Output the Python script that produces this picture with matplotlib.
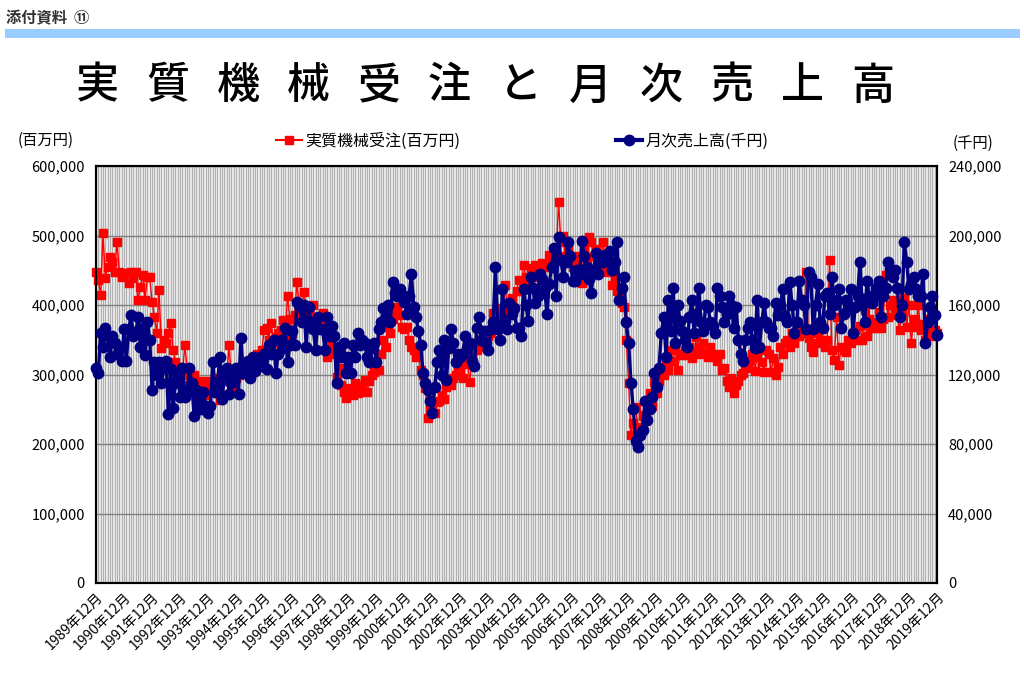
import matplotlib
matplotlib.use('Agg')
import matplotlib.pyplot as plt
from matplotlib.patches import Rectangle
from matplotlib.lines import Line2D
from matplotlib.ticker import FuncFormatter, MultipleLocator

plt.rcParams['font.family'] = ['Noto Sans CJK JP', 'DejaVu Sans']

# Data (monthly, 1989-12 .. 2019-12)

# 実質機械受注, thousand x 百万円
orders = [
    448,                                                          # 1989-12
    436, 414, 503, 439, 455, 469, 462, 448, 491, 447, 440, 446,   # 1990
    446, 432, 447, 439, 448, 407, 426, 443, 407, 440, 440, 405,   # 1991
    383, 360, 421, 338, 350, 345, 360, 374, 335, 318, 311, 306,   # 1992
    300, 342, 310, 285, 295, 300, 280, 275, 290, 282, 270, 290,   # 1993
    285, 280, 295, 275, 263, 270, 290, 300, 342, 290, 280, 295,   # 1994
    300, 310, 305, 315, 320, 310, 325, 315, 330, 320, 335, 364,   # 1995
    367, 350, 374, 345, 354, 360, 364, 378, 355, 413, 380, 360,   # 1996
    385, 433, 400, 390, 419, 395, 385, 380, 400, 370, 365, 380,   # 1997
    389, 370, 325, 350, 340, 330, 296, 310, 285, 275, 266, 280,   # 1998
    278, 270, 288, 273, 285, 280, 292, 275, 290, 300, 304, 306,   # 1999
    306, 330, 350, 340, 368, 360, 380, 390, 397, 385, 368, 365,   # 2000
    368, 350, 340, 335, 325, 330, 306, 300, 280, 237, 250, 255,   # 2001
    245, 260, 262, 270, 265, 282, 290, 285, 295, 300, 310, 305,   # 2002
    295, 315, 320, 289, 325, 340, 335, 350, 345, 360, 340, 355,   # 2003
    360, 388, 370, 380, 395, 385, 429, 400, 390, 410, 395, 420,   # 2004
    436, 420, 458, 440, 430, 453, 445, 458, 440, 450, 460, 455,   # 2005
    455, 472, 460, 480, 470, 548, 490, 500, 470, 480, 465, 455,   # 2006
    470, 460, 450, 432, 480, 465, 498, 490, 470, 480, 465, 455,   # 2007
    491, 470, 447, 460, 429, 440, 420, 410, 403, 397, 350, 288,   # 2008
    213, 230, 253, 225, 213, 240, 242, 260, 273, 255, 289, 273,   # 2009
    290, 306, 300, 320, 306, 335, 320, 340, 306, 330, 328, 335,   # 2010
    328, 340, 324, 330, 354, 340, 330, 345, 331, 325, 340, 330,   # 2011
    325, 320, 330, 306, 310, 290, 282, 295, 273, 285, 290, 300,   # 2012
    302, 315, 310, 321, 330, 305, 325, 340, 318, 304, 335, 330,   # 2013
    304, 324, 299, 311, 340, 330, 345, 350, 340, 360, 345, 355,   # 2014
    355, 368, 360, 447, 352, 340, 332, 345, 360, 350, 345, 340,   # 2015
    350, 465, 335, 321, 383, 314, 340, 335, 332, 350, 345, 360,   # 2016
    364, 350, 370, 350, 393, 355, 380, 367, 375, 367, 390, 367,   # 2017
    380, 443, 383, 400, 407, 396, 385, 364, 390, 410, 368, 400,   # 2018
    345, 380, 368, 400, 364, 372, 350, 364, 380, 355, 364, 360,   # 2019
]

# 月次売上高, thousand x 千円
sales = [
    124,                                                          # 1989-12
    121, 144, 136, 147, 142, 130, 142, 138, 132, 136, 128, 146,   # 1990
    128, 146, 154, 142, 144, 153, 136, 147, 131, 150, 140, 111,   # 1991
    127, 120, 127, 115, 124, 128, 97, 123, 101, 115, 120, 107,    # 1992
    124, 107, 110, 124, 115, 96, 111, 105, 100, 110, 102, 98,     # 1993
    102, 127, 110, 115, 130, 106, 120, 124, 109, 115, 120, 124,   # 1994
    109, 141, 121, 125, 128, 118, 130, 122, 128, 130, 125, 132,   # 1995
    123, 137, 132, 140, 121, 132, 140, 135, 147, 127, 137, 145,   # 1996
    137, 162, 160, 150, 160, 136, 159, 150, 146, 134, 153, 146,   # 1997
    146, 134, 153, 142, 148, 142, 115, 136, 130, 138, 121, 130,   # 1998
    121, 137, 130, 144, 137, 140, 138, 130, 127, 135, 138, 127,   # 1999
    146, 150, 158, 151, 160, 150, 173, 167, 165, 169, 166, 162,   # 2000
    155, 165, 178, 159, 153, 145, 137, 121, 115, 111, 105, 98,    # 2001
    113, 127, 134, 120, 140, 117, 135, 146, 138, 127, 132, 130,   # 2002
    132, 142, 135, 138, 128, 125, 147, 153, 140, 145, 138, 134,   # 2003
    146, 150, 182, 146, 140, 169, 151, 146, 161, 155, 158, 147,   # 2004
    147, 142, 169, 160, 151, 176, 170, 161, 165, 178, 175, 170,   # 2005
    155, 172, 182, 193, 165, 199, 186, 176, 185, 196, 188, 174,   # 2006
    174, 180, 178, 197, 188, 182, 175, 167, 180, 190, 178, 185,   # 2007
    185, 189, 186, 191, 180, 185, 196, 163, 170, 176, 150, 138,   # 2008
    115, 100, 82, 78, 85, 88, 105, 94, 100, 107, 121, 113,        # 2009
    124, 144, 153, 130, 163, 145, 170, 138, 160, 151, 145, 140,   # 2010
    136, 153, 163, 144, 155, 170, 150, 145, 160, 159, 150, 148,   # 2011
    144, 170, 165, 159, 150, 155, 165, 160, 147, 159, 140, 132,   # 2012
    128, 140, 147, 150, 140, 135, 163, 136, 150, 161, 150, 147,   # 2013
    147, 142, 161, 154, 160, 169, 153, 150, 173, 160, 144, 150,   # 2014
    174, 163, 160, 146, 179, 176, 146, 160, 172, 150, 147, 165,   # 2015
    167, 155, 176, 160, 163, 169, 147, 155, 163, 158, 169, 144,   # 2016
    159, 165, 185, 160, 150, 174, 165, 161, 165, 170, 174, 153,   # 2017
    165, 170, 185, 181, 176, 180, 170, 153, 160, 196, 185, 169,   # 2018
    172, 176, 169, 165, 165, 178, 138, 150, 159, 165, 154, 143,   # 2019
]

years = list(range(1989, 2020))
tick_labels = [f'{y}年12月' for y in years]
title_chars = list('実質機械受注と月次売上高')

RED = '#ff0000'
NAVY = '#000080'

W, H = 1024, 678
fig = plt.figure(figsize=(W / 100, H / 100), dpi=100)


def fx(px):
    return px / W


def fy(py):
    return 1 - py / H


# header
fig.text(fx(6), fy(18), '添付資料  ⑪', fontsize=11, fontweight='bold',
         color='#333333', va='center', ha='left')
fig.add_artist(Rectangle((fx(5), fy(38)), fx(1015), 9 / H,
                         transform=fig.transFigure, color='#99ccff', lw=0))

# spaced title
for k, ch in enumerate(title_chars):
    fig.text(fx(97 + k * 70.5), fy(86), ch, fontsize=31, ha='center', va='center',
             fontweight='medium')

fig.text(fx(18), fy(140), '(百万円)', fontsize=11, va='center', ha='left')
fig.text(fx(953), fy(143), '(千円)', fontsize=11, va='center', ha='left')

# axes
ax = fig.add_axes([fx(96), fy(583), fx(841), 417 / H])
ax.set_facecolor('#e6e6e6')

x = list(range(len(orders)))
ax.plot(x, [v * 1000 for v in orders], color=RED, lw=1, marker='s', ms=5.5,
        mec=RED, mfc=RED, clip_on=False, zorder=3)

ax.set_xlim(0, len(orders) - 1)
ax.set_ylim(0, 600000)
ax.yaxis.set_major_locator(MultipleLocator(100000))
ax.yaxis.set_major_formatter(FuncFormatter(lambda v, p: f'{int(v):,}'))
ax.set_xticks(x[::12])
ax.set_xticks(x, minor=True)
ax.set_xticklabels(tick_labels, rotation=45, ha='right', va='top',
                   rotation_mode='anchor', fontsize=10)
ax.grid(True, which='minor', axis='x', color='#a0a0a0', lw=0.55)
ax.grid(True, which='major', axis='x', color='#a0a0a0', lw=0.55)
ax.grid(True, which='major', axis='y', color='#808080', lw=1)
ax.set_axisbelow(True)
ax.tick_params(axis='x', which='both', length=0, pad=5)
ax.tick_params(axis='y', length=0, labelsize=10.5, pad=8)
for s in ax.spines.values():
    s.set_linewidth(1.5)
    s.set_color('black')

ax2 = ax.twinx()
ax2.plot(x, [v * 1000 for v in sales], color=NAVY, lw=2.4, marker='o', ms=7.5,
         mec=NAVY, mfc=NAVY, clip_on=False, zorder=4)
ax2.set_ylim(0, 240000)
ax2.yaxis.set_major_locator(MultipleLocator(40000))
ax2.yaxis.set_major_formatter(FuncFormatter(lambda v, p: f'{int(v):,}'))
ax2.tick_params(axis='y', length=0, labelsize=10.5, pad=8)
for s in ax2.spines.values():
    s.set_linewidth(1.5)
    s.set_color('black')

# legend entries
h1 = Line2D([], [], color=RED, lw=1.5, marker='s', ms=5.5)
h2 = Line2D([], [], color=NAVY, lw=3, marker='o', ms=7.5)
fig.legend([h1], ['実質機械受注(百万円)'], loc='center left',
           bbox_to_anchor=(fx(262), fy(141)), frameon=False, fontsize=11.5,
           handlelength=1.6, handletextpad=0.2)
fig.legend([h2], ['月次売上高(千円)'], loc='center left',
           bbox_to_anchor=(fx(602), fy(141)), frameon=False, fontsize=11.5,
           handlelength=1.6, handletextpad=0.2)

plt.savefig('out.png', dpi=100)
plt.close()
